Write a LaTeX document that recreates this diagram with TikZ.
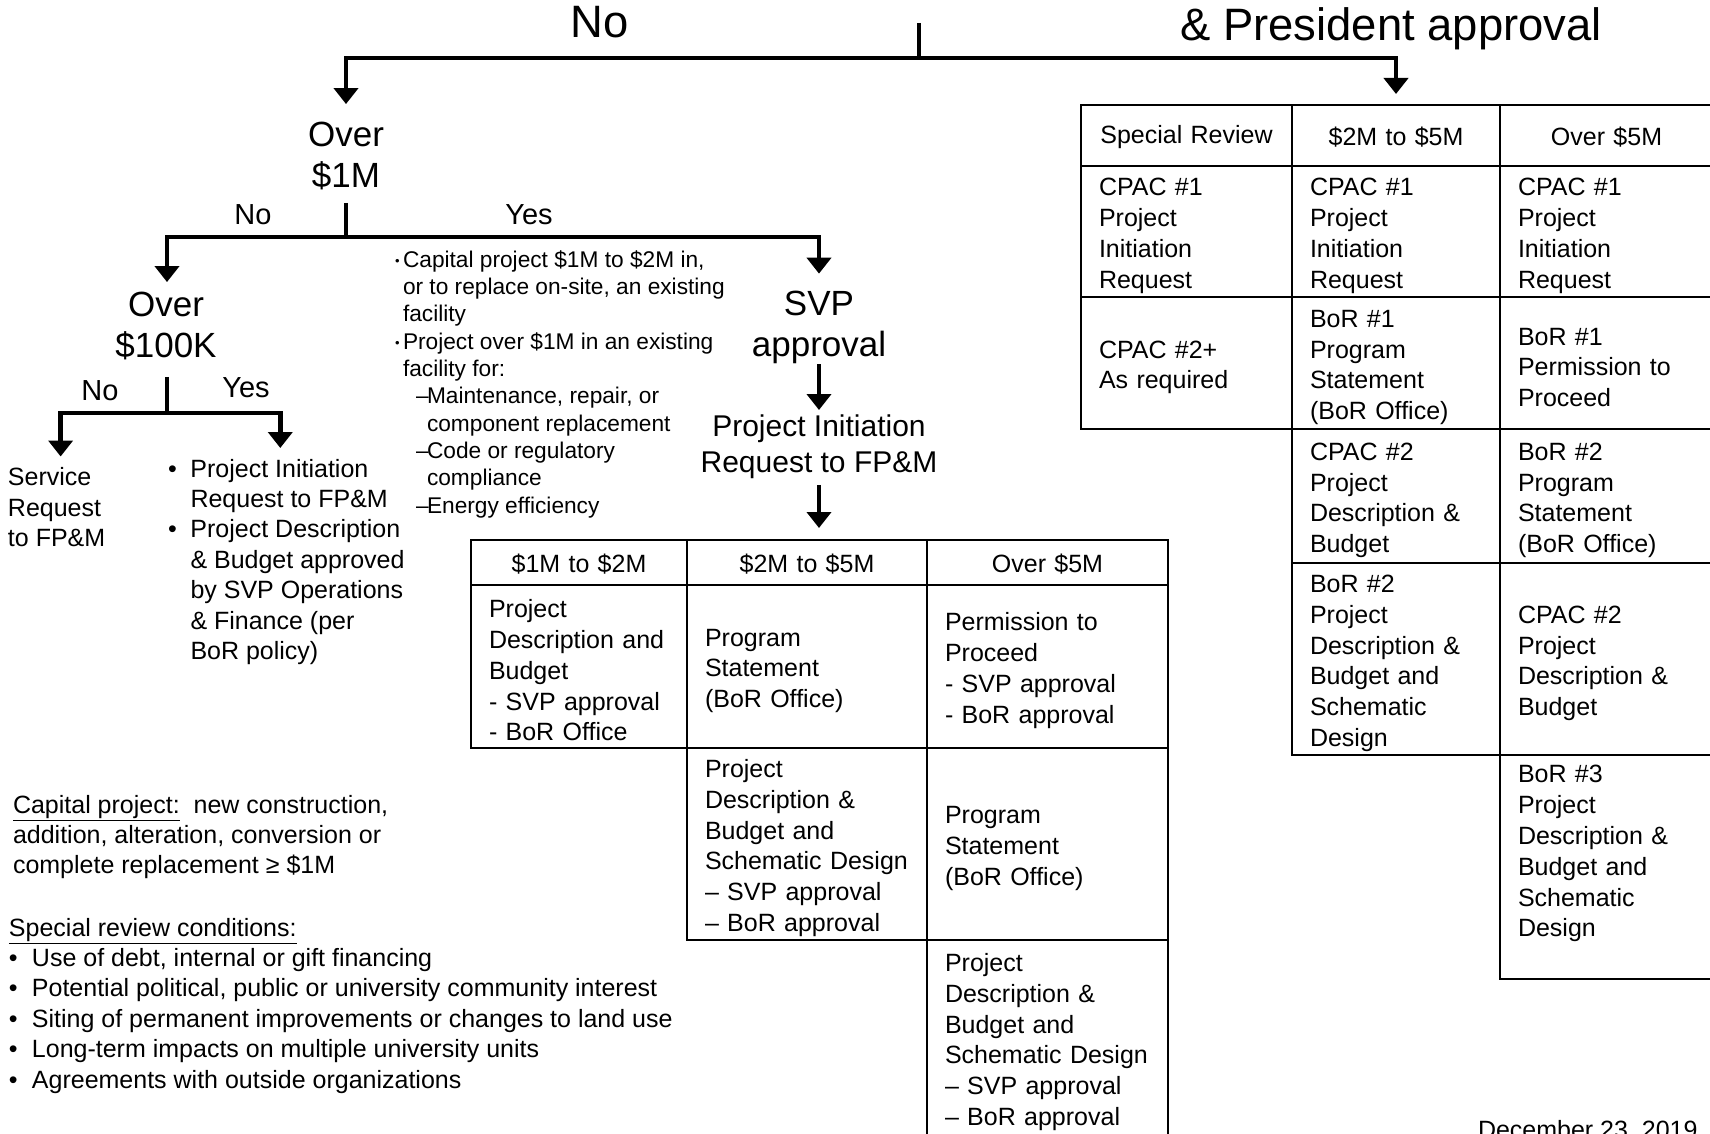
\documentclass[tikz,border=0pt]{standalone}
\usepackage{fontspec}
\setmainfont{Liberation Sans}
\usetikzlibrary{arrows.meta}

\begin{document}
\begin{tikzpicture}[
  x=1pt,
  y=-1pt,
  every node/.style={inner sep=0pt, outer sep=0pt, text=black},
  flow/.style={line width=4.6pt, -{Triangle[length=16pt,width=24pt]}},
  branch/.style={line width=4.6pt},
  title/.style={font=\fontsize{45.4}{52}\selectfont, anchor=base},
  decision/.style={font=\fontsize{35}{41}\selectfont, align=center},
  answer/.style={font=\fontsize{29}{34}\selectfont, anchor=base},
  request/.style={font=\fontsize{30}{36}\selectfont, align=center},
  note/.style={font=\fontsize{25}{30.4}\selectfont, align=left, anchor=north west},
  crit/.style={font=\fontsize{22.7}{27.3}\selectfont, align=left, anchor=north west},
  tablebox/.style={draw, line width=2.4pt, anchor=north west, inner xsep=18pt,
    inner ysep=0pt, font=\fontsize{25}{30.8}\selectfont},
  cell/.style={tablebox, align=left, execute at begin node={\rule{0pt}{26pt}}},
  head/.style={tablebox, align=center, execute at begin node={\rule{0pt}{22pt}}},
  mcolA/.style={minimum width=216pt, text width=180pt},
  mcolB/.style={minimum width=240pt, text width=204pt},
  mcolC/.style={minimum width=241pt, text width=205pt},
  rcolA/.style={minimum width=211pt, text width=175pt},
  rcolB/.style={minimum width=208pt, text width=172pt},
  rcolC/.style={minimum width=213pt, text width=177pt}
]
  \useasboundingbox (0,0) rectangle (1710,1134);

  % ---- the first split ---------------------------------------------------
  \node[title] (topno) at (600,38) {No};
  \node[title] (pres) at (1391,41) {\& President approval};
  \coordinate (topq) at (919,23);
  \coordinate (b0) at (919,58);

  % ---- over $1M ----------------------------------------------------------
  \node[decision] (over1m) at (346,156) {Over\\\$1M};
  \coordinate (b1) at (346,237);
  \node[answer] (no1) at (253,225) {No};
  \node[answer] (yes1) at (529,225) {Yes};

  % ---- over $100K --------------------------------------------------------
  \node[decision] (over100k) at (166,326) {Over\\\$100K};
  \coordinate (b3) at (167,413);
  \node[answer] (no2) at (100,400) {No};
  \node[answer] (yes2) at (246,397) {Yes};
  \node[note] (service) at (8,467.5) {Service\\Request\\to FP\&M};
  \node[note] (plist) at (168,459) {\makebox[22.5pt][l]{\textbullet}Project Initiation\\
    \hspace*{22.5pt}Request to FP\&M\\
    \makebox[22.5pt][l]{\textbullet}Project Description\\
    \hspace*{22.5pt}\& Budget approved\\
    \hspace*{22.5pt}by SVP Operations\\
    \hspace*{22.5pt}\& Finance (per\\
    \hspace*{22.5pt}BoR policy)};

  % ---- what counts as over $1M -------------------------------------------
  \node[crit] (crit) at (395,250.5) {\makebox[8pt][l]{\fontsize{13}{13}\selectfont\raisebox{0.25ex}{\textbullet}}Capital project \$1M to \$2M in,\\
    \hspace*{8pt}or to replace on-site, an existing\\
    \hspace*{8pt}facility\\
    \makebox[8pt][l]{\fontsize{13}{13}\selectfont\raisebox{0.25ex}{\textbullet}}Project over \$1M in an existing\\
    \hspace*{8pt}facility for:\\
    \hspace*{21pt}\makebox[11pt][l]{–}Maintenance, repair, or\\
    \hspace*{32pt}component replacement\\
    \hspace*{21pt}\makebox[11pt][l]{–}Code or regulatory\\
    \hspace*{32pt}compliance\\
    \hspace*{21pt}\makebox[11pt][l]{–}Energy efficiency};

  % ---- SVP approval ------------------------------------------------------
  \node[decision] (svp) at (819,327) {SVP\\approval};
  \node[request] (pir) at (819,447) {Project Initiation\\Request to FP\&M};

  % ---- the middle table --------------------------------------------------
  \node[head, mcolA, minimum height=45pt] (m1h) at (471,540) {\$1M to \$2M};
  \node[head, mcolB, minimum height=45pt] (m2h) at (687,540) {\$2M to \$5M};
  \node[head, mcolC, minimum height=45pt] (m3h) at (927,540) {Over \$5M};
  \node[cell, mcolA, minimum height=163pt] (m1a) at (471,585)
    {Project\\Description and\\Budget\\- SVP approval\\- BoR Office};
  \node[cell, mcolB, minimum height=163pt] (m2a) at (687,585)
    {Program\\Statement\\(BoR Office)};
  \node[cell, mcolC, minimum height=163pt] (m3a) at (927,585)
    {Permission to\\Proceed\\- SVP approval\\- BoR approval};
  \node[cell, mcolB, minimum height=192pt] (m2b) at (687,748)
    {Project\\Description \&\\Budget and\\Schematic Design\\– SVP approval\\– BoR approval};
  \node[cell, mcolC, minimum height=192pt] (m3b) at (927,748)
    {Program\\Statement\\(BoR Office)};
  \node[cell, mcolC, minimum height=196pt] (m3c) at (927,940)
    {Project\\Description \&\\Budget and\\Schematic Design\\– SVP approval\\– BoR approval};

  % ---- the right table ---------------------------------------------------
  \node[head, rcolA, minimum height=61pt] (r1h) at (1081,105) {Special Review};
  \node[head, rcolB, minimum height=61pt] (r2h) at (1292,105) {\$2M to \$5M};
  \node[head, rcolC, minimum height=61pt] (r3h) at (1500,105) {Over \$5M};
  \node[cell, rcolA, minimum height=131pt] (r1a) at (1081,166)
    {CPAC \#1\\Project\\Initiation\\Request};
  \node[cell, rcolB, minimum height=131pt] (r2a) at (1292,166)
    {CPAC \#1\\Project\\Initiation\\Request};
  \node[cell, rcolC, minimum height=131pt] (r3a) at (1500,166)
    {CPAC \#1\\Project\\Initiation\\Request};
  \node[cell, rcolA, minimum height=132pt] (r1b) at (1081,297)
    {CPAC \#2+\\As required};
  \node[cell, rcolB, minimum height=132pt] (r2b) at (1292,297)
    {BoR \#1\\Program\\Statement\\(BoR Office)};
  \node[cell, rcolC, minimum height=132pt] (r3b) at (1500,297)
    {BoR \#1\\Permission to\\Proceed};
  \node[cell, rcolB, minimum height=134pt] (r2c) at (1292,429)
    {CPAC \#2\\Project\\Description \&\\Budget};
  \node[cell, rcolC, minimum height=134pt] (r3c) at (1500,429)
    {BoR \#2\\Program\\Statement\\(BoR Office)};
  \node[cell, rcolB, minimum height=192pt] (r2d) at (1292,563)
    {BoR \#2\\Project\\Description \&\\Budget and\\Schematic\\Design};
  \node[cell, rcolC, minimum height=192pt] (r3d) at (1500,563)
    {CPAC \#2\\Project\\Description \&\\Budget};
  \node[cell, rcolC, minimum height=224pt] (r3e) at (1500,755)
    {BoR \#3\\Project\\Description \&\\Budget and\\Schematic\\Design\\\strut};

  % ---- the notes ---------------------------------------------------------
  \node[note] (capdef) at (13,795) {\underline{Capital project:}\ \ new construction,\\
    addition, alteration, conversion or\\complete replacement ≥ \$1M};
  \node[note] (specrev) at (9,918) {\underline{Special review conditions:}\\
    \makebox[23pt][l]{\textbullet}Use of debt, internal or gift financing\\
    \makebox[23pt][l]{\textbullet}Potential political, public or university community interest\\
    \makebox[23pt][l]{\textbullet}Siting of permanent improvements or changes to land use\\
    \makebox[23pt][l]{\textbullet}Long-term impacts on multiple university units\\
    \makebox[23pt][l]{\textbullet}Agreements with outside organizations};
  \node[font=\fontsize{25}{30}\selectfont, anchor=base west] (date) at (1478,1138)
    {December 23, 2019};

  % ---- the connectors ----------------------------------------------------
  \draw[branch] (topq) -- (b0);
  \draw[flow, shorten >=18pt] (b0) -| (over1m.north);
  \draw[flow, shorten >=11pt] (b0) -| (r2h.north);
  \draw[branch, shorten <=13pt] (over1m.south) -- (b1);
  \draw[flow, shorten >=10pt] (b1) -| ([xshift=1pt]over100k.north);
  \draw[flow, shorten >=17pt] (b1) -| (svp.north);
  \draw[branch, shorten <=17pt] ([xshift=1pt]over100k.south) -- (b3);
  \draw[flow, shorten >=11pt] (b3) -| ([xshift=4pt]service.north);
  \draw[flow, shorten >=11pt] (b3) -| ([xshift=-6pt]plist.north);
  \draw[flow, shorten <=1pt, shorten >=5pt] (svp) -- (pir);
  \draw[flow, shorten <=6pt, shorten >=12pt] (pir) -- (pir |- m2h.north);
\end{tikzpicture}
\end{document}
